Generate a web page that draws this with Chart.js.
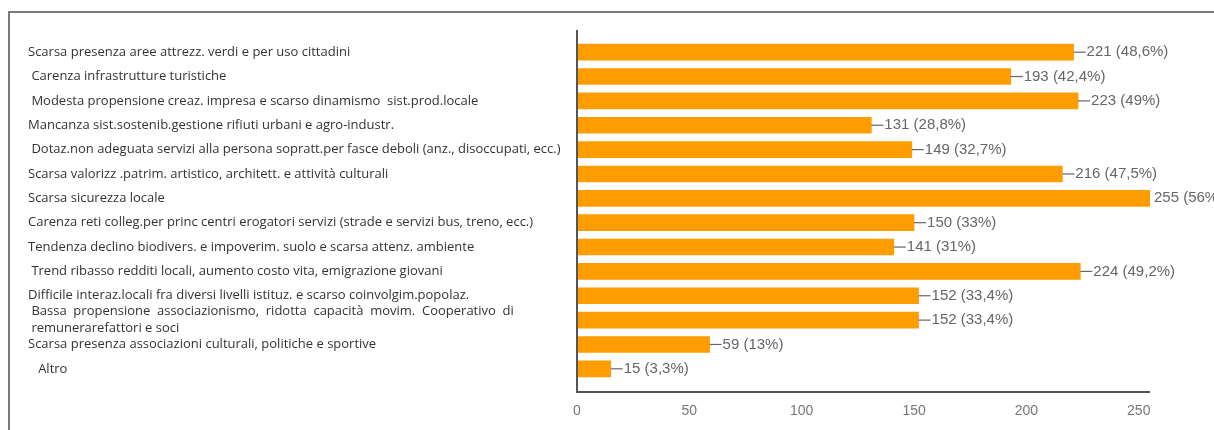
<!DOCTYPE html>
<html>
<head>
<meta charset="utf-8">
<script src="https://cdn.jsdelivr.net/npm/chart.js@4/dist/chart.umd.min.js"></script>
<style>
    body { margin: 0; background: #fff; }
    canvas { display: block; }
</style>
</head>
<body>
<canvas id="problemsChart" width="1214" height="430"></canvas>
<script>
// Chart data
const categories = [
    'Scarsa presenza aree attrezz. verdi e per uso cittadini',
    ' Carenza infrastrutture turistiche',
    ' Modesta propensione creaz. impresa e scarso dinamismo  sist.prod.locale',
    'Mancanza sist.sostenib.gestione rifiuti urbani e agro-industr.',
    ' Dotaz.non adeguata servizi alla persona sopratt.per fasce deboli (anz., disoccupati, ecc.)',
    'Scarsa valorizz .patrim. artistico, architett. e attività culturali',
    'Scarsa sicurezza locale',
    'Carenza reti colleg.per princ centri erogatori servizi (strade e servizi bus, treno, ecc.)',
    'Tendenza declino biodivers. e impoverim. suolo e scarsa attenz. ambiente',
    ' Trend ribasso redditi locali, aumento costo vita, emigrazione giovani',
    'Difficile interaz.locali fra diversi livelli istituz. e scarso coinvolgim.popolaz.',
    [' Bassa  propensione  associazionismo,  ridotta  capacità  movim.  Cooperativo  di', ' remunerarefattori e soci'],
    'Scarsa presenza associazioni culturali, politiche e sportive',
    '   Altro'
];
const responses = [221, 193, 223, 131, 149, 216, 255, 150, 141, 224, 152, 152, 59, 15];
const percentages = ['48,6%', '42,4%', '49%', '28,8%', '32,7%', '47,5%', '56%', '33%', '31%', '49,2%', '33,4%', '33,4%', '13%', '3,3%'];
const xTicks = [0, 50, 100, 150, 200, 250];
const axisMax = 255;

// Frame round the whole picture
const framePlugin = {
    id: 'frame',
    beforeDraw(chart) {
        const ctx = chart.ctx;
        ctx.save();
        ctx.strokeStyle = '#7a7a7a';
        ctx.lineWidth = 2;
        ctx.strokeRect(9, 12, chart.width + 20, chart.height + 20);
        ctx.restore();
    }
};

// Axis lines, drawn a bit outside the bar area like the original
const axisLinesPlugin = {
    id: 'axisLines',
    afterDatasetsDraw(chart) {
        const { ctx, chartArea } = chart;
        const baseY = chartArea.bottom + 11;
        ctx.save();
        ctx.strokeStyle = '#555';
        ctx.lineWidth = 2;
        ctx.beginPath();
        ctx.moveTo(chartArea.left, chartArea.top - 10);
        ctx.lineTo(chartArea.left, baseY);
        ctx.lineTo(chartArea.right, baseY);
        ctx.stroke();
        ctx.restore();
    }
};

// "—221 (48,6%)" labels at the end of each bar
const valueLabelsPlugin = {
    id: 'valueLabels',
    afterDatasetsDraw(chart) {
        const ctx = chart.ctx;
        const meta = chart.getDatasetMeta(0);
        ctx.save();
        ctx.font = '15px "Liberation Sans", sans-serif';
        ctx.fillStyle = '#666';
        ctx.strokeStyle = '#666';
        ctx.lineWidth = 1.2;
        ctx.textBaseline = 'middle';
        ctx.textAlign = 'left';
        meta.data.forEach((bar, i) => {
            const text = `${responses[i]} (${percentages[i]})`;
            if (responses[i] >= axisMax) {
                ctx.fillText(text, bar.x + 4, bar.y);
                return;
            }
            ctx.beginPath();
            ctx.moveTo(bar.x, bar.y);
            ctx.lineTo(bar.x + 12, bar.y);
            ctx.stroke();
            ctx.fillText(text, bar.x + 13, bar.y);
        });
        ctx.restore();
    }
};

const ctx = document.getElementById('problemsChart').getContext('2d');
new Chart(ctx, {
    type: 'bar',
    data: {
        labels: categories,
        datasets: [{
            data: responses,
            backgroundColor: '#ff9c00',
            borderWidth: 0,
            barThickness: 16
        }]
    },
    options: {
        indexAxis: 'y',
        responsive: false,
        animation: false,
        layout: { padding: { left: 28, top: 40, right: 64, bottom: 13 } },
        plugins: {
            legend: { display: false },
            tooltip: { enabled: false }
        },
        scales: {
            x: {
                min: 0,
                max: axisMax,
                afterFit(scale) { scale.height = 36; },
                // the axis runs a little past 250, but only round ticks are shown
                afterBuildTicks(scale) {
                    scale.ticks = xTicks.map(v => ({ value: v }));
                },
                grid: { display: false, drawTicks: false },
                border: { display: false },
                ticks: {
                    padding: 22,
                    color: '#777',
                    font: { family: '"Liberation Sans", sans-serif', size: 14 }
                }
            },
            y: {
                afterFit(scale) { scale.width = 549; },
                grid: { display: false, drawTicks: false },
                border: { display: false },
                ticks: {
                    crossAlign: 'far',
                    autoSkip: false,
                    color: '#333',
                    font: { family: '"Open Sans", sans-serif', size: 13, lineHeight: 1.3 }
                }
            }
        }
    },
    plugins: [framePlugin, axisLinesPlugin, valueLabelsPlugin]
});
</script>
</body>
</html>
